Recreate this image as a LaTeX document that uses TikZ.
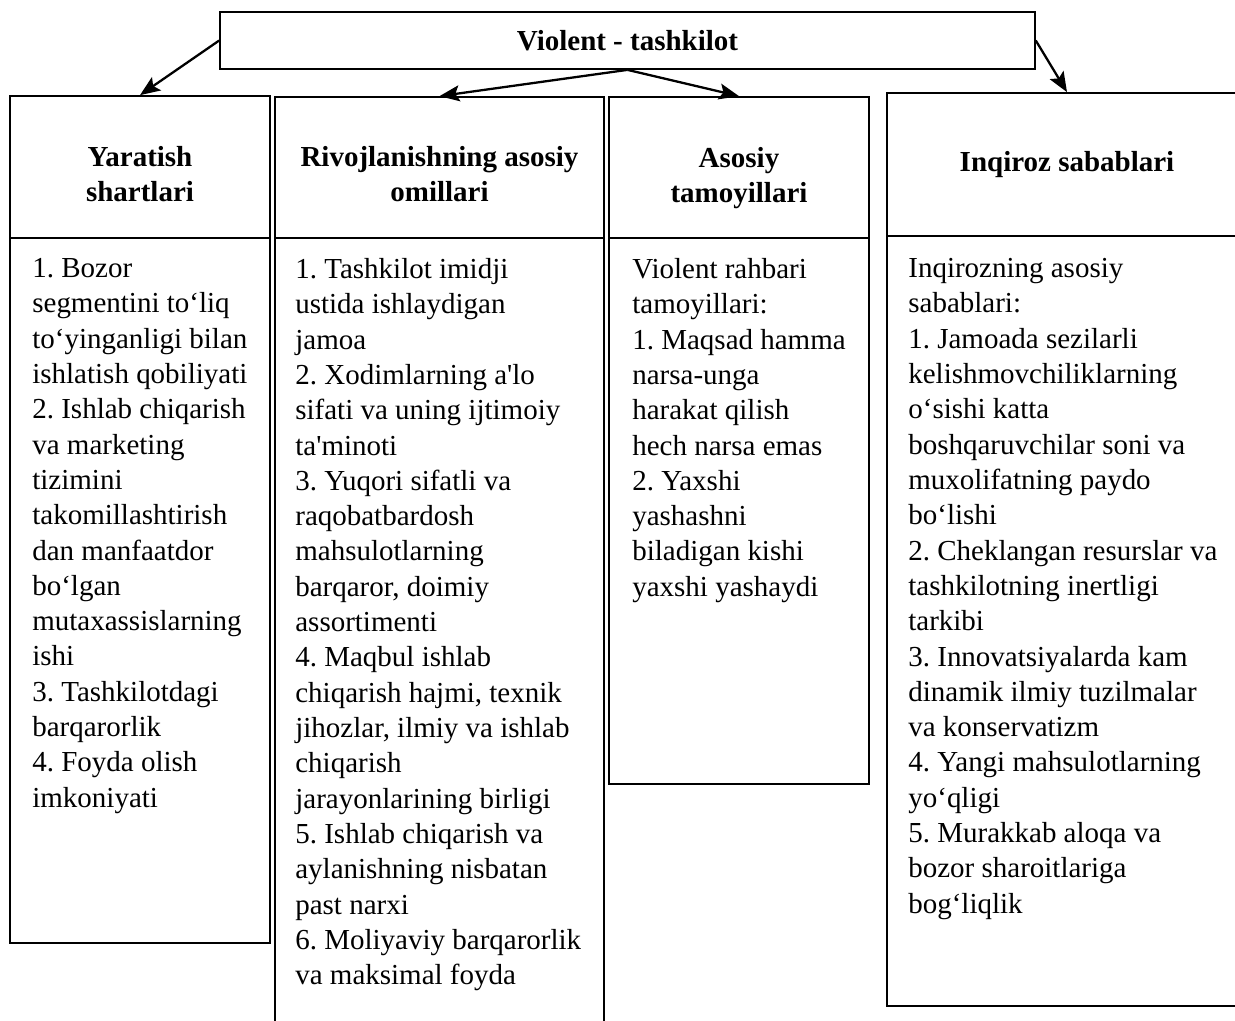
\documentclass[tikz,border=0pt]{standalone}
\usepackage{fontspec}
\setmainfont{Liberation Serif}
\usetikzlibrary{arrows.meta,positioning}
\frenchspacing

\begin{document}
\begin{tikzpicture}[x=0.02cm,y=-0.02cm,
  font=\fontsize{16.5}{20.1}\selectfont,
  box/.style={draw, rectangle, line width=1pt, inner sep=0pt},
  title/.style={font=\fontsize{16.5}{20.1}\selectfont\bfseries, align=center, inner sep=0pt},
  body/.style={align=left, inner sep=0pt, anchor=north west},
  link/.style={line width=1.3pt, -{Stealth[length=4mm,width=3.2mm,inset=0.8mm]}}]
\useasboundingbox (0,0) rectangle (1235,1021);
\clip (0,0) rectangle (1235,1021);

\node[box, minimum width=16.3cm, minimum height=1.14cm, font=\fontsize{16.5}{20.1}\selectfont\bfseries] (T) at (627.5,40.5) {Violent - tashkilot};

% headers
\node[box, minimum width=5.2cm, minimum height=2.84cm] (H1) at (140,167) {};
\node[box, minimum width=6.58cm, minimum height=2.82cm] (H2) at (439.5,167.5) {};
\node[box, minimum width=5.2cm, minimum height=2.82cm] (H3) at (739,167.5) {};
\node[box, minimum width=7.2cm, minimum height=2.86cm] (H4) at (1067,164.5) {};

\node[title, below=1.02cm of H1.north] (t1) {Yaratish\\shartlari};
\node[title, below=1cm of H2.north] (t2) {Rivojlanishning asosiy\\omillari};
\node[title, below=1.02cm of H3.north] (t3) {Asosiy\\tamoyillari};
\node[title, below=1.18cm of H4.north] (t4) {Inqiroz sabablari};

% bodies
\node[box, minimum width=5.2cm, minimum height=14.1cm] (B1) at (140,590.5) {};
\node[box, minimum width=6.58cm, minimum height=16.44cm] (B2) at (439.5,649) {};
\node[box, minimum width=5.2cm, minimum height=10.92cm] (B3) at (739,511) {};
\node[box, minimum width=7.2cm, minimum height=15.4cm] (B4) at (1067,621) {};

\node[body] (b1) at (32,258) {1. Bozor\\
segmentini to‘liq\\
to‘yinganligi bilan\\
ishlatish qobiliyati\\
2. Ishlab chiqarish\\
va marketing\\
tizimini\\
takomillashtirish\\
dan manfaatdor\\
bo‘lgan\\
mutaxassislarning\\
ishi\\
3. Tashkilotdagi\\
barqarorlik\\
4. Foyda olish\\
imkoniyati};

\node[body] (b2) at (295,258) {1. Tashkilot imidji\\
ustida ishlaydigan\\
jamoa\\
2. Xodimlarning a\textquotesingle lo\\
sifati va uning ijtimoiy\\
ta\textquotesingle minoti\\
3. Yuqori sifatli va\\
raqobatbardosh\\
mahsulotlarning\\
barqaror, doimiy\\
assortimenti\\
4. Maqbul ishlab\\
chiqarish hajmi, texnik\\
jihozlar, ilmiy va ishlab\\
chiqarish\\
jarayonlarining birligi\\
5. Ishlab chiqarish va\\
aylanishning nisbatan\\
past narxi\\
6. Moliyaviy barqarorlik\\
va maksimal foyda};

\node[body] (b3) at (632,258) {Violent rahbari\\
tamoyillari:\\
1. Maqsad hamma\\
narsa-unga\\
harakat qilish\\
hech narsa emas\\
2. Yaxshi\\
yashashni\\
biladigan kishi\\
yaxshi yashaydi};

\node[body] (b4) at (908,258) {Inqirozning asosiy\\
sabablari:\\
1. Jamoada sezilarli\\
kelishmovchiliklarning\\
o‘sishi katta\\
boshqaruvchilar soni va\\
muxolifatning paydo\\
bo‘lishi\\
2. Cheklangan resurslar va\\
tashkilotning inertligi\\
tarkibi\\
3. Innovatsiyalarda kam\\
dinamik ilmiy tuzilmalar\\
va konservatizm\\
4. Yangi mahsulotlarning\\
yo‘qligi\\
5. Murakkab aloqa va\\
bozor sharoitlariga\\
bog‘liqlik};

% arrows
\draw[link] (T.west) -- (H1.north);
\draw[link] (T.south) -- (H2.north);
\draw[link] (T.south) -- (H3.north);
\draw[link] (T.east) -- (H4.north);
\end{tikzpicture}
\end{document}
